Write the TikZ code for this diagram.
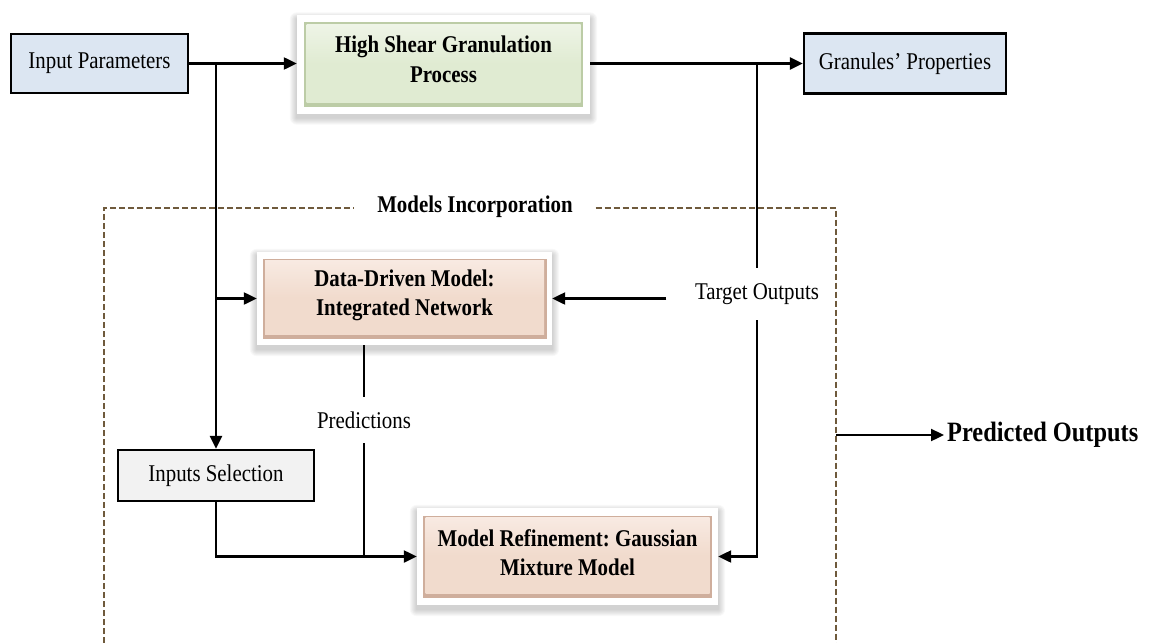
\documentclass[tikz,border=0pt]{standalone}
\usepackage{fontspec}
\setmainfont{Liberation Serif}
\newfontfamily\narrowserif{Liberation Serif}[FakeStretch=0.87]
\usetikzlibrary{arrows.meta}
\frenchspacing

\definecolor{boxblue}{HTML}{DCE6F2}
\definecolor{boxgray}{HTML}{F2F2F2}
\definecolor{greenface}{HTML}{E0EBD2}
\definecolor{greentop}{HTML}{EEF4E6}
\definecolor{greenrim}{HTML}{BCCCA6}
\definecolor{peachface}{HTML}{F1DBCD}
\definecolor{peachtop}{HTML}{F8EAE2}
\definecolor{peachrim}{HTML}{CFAE9C}
\definecolor{framebrown}{HTML}{6F5A3C}

\tikzset{
  link/.style={line width=2.3pt, draw=black},
  arr/.style={link, -{Triangle[length=13pt,width=12pt]}},
  plainbox/.style={draw=black, line width=2.3pt, align=center, inner sep=0pt,
    font=\narrowserif\fontsize{24}{28}\selectfont},
  glowframe/.style={draw=none, fill=white, inner sep=0pt},
  rim/.style={draw=none, fill=#1, inner sep=0pt},
  face/.style={draw=none, inner sep=0pt},
  facetext/.style={inner sep=0pt, align=center,
    font=\narrowserif\bfseries\fontsize{24}{29.5}\selectfont},
  lbl/.style={inner sep=0pt, align=center, font=\narrowserif\fontsize{24}{28}\selectfont},
  framedash/.style={draw=framebrown, line width=1.8pt, dash pattern=on 6pt off 3pt}
}

% soft blurred shadow under a named frame node
\newcommand\softshade[1]{%
  \foreach \s in {1,...,7}{%
    \fill[black, opacity=0.028, rounded corners=\s pt]
      ([xshift=-\s pt, yshift=\s pt-4pt]#1.north west) rectangle
      ([xshift=\s pt, yshift=-\s pt-4pt]#1.south east);
  }%
}

\begin{document}
\begin{tikzpicture}[x=1pt,y=-1pt]
\useasboundingbox (0,0) rectangle (1155,642);

% ---- dashed frame around the model stage
\node[inner sep=0pt, minimum width=241pt, minimum height=24pt,
      font=\narrowserif\bfseries\fontsize{24}{28}\selectfont] (title) at (475,207) {Models Incorporation};
\draw[framedash] (104,643) -- (104,208) -- (title.west |- 0,208);
\draw[framedash] (title.east |- 0,208) -- (836,208) -- (836,643);

% ---- top row
\node[plainbox, fill=boxblue, minimum width=177pt, minimum height=59pt] (inp) at (99.5,63.5) {Input Parameters};
\node[plainbox, fill=boxblue, minimum width=202pt, minimum height=60pt] (gran) at (905,63.5) {Granules’ Properties};

\path (443.5,64.5) node[glowframe, minimum width=293pt, minimum height=98pt] (hsgf) {};
\softshade{hsgf}
\node[glowframe, minimum width=293pt, minimum height=98pt] at (hsgf.center) {};
\node[rim=greenrim, minimum width=279pt, minimum height=84pt] at (hsgf.center) {};
\node[face, top color=greentop, bottom color=greenface, middle color=greenface,
      minimum width=274pt, minimum height=78pt] at ([yshift=1pt]hsgf.center) {};
\node[facetext] (hsg) at ([yshift=5pt]hsgf.center) {High Shear Granulation\\Process};

% ---- model boxes
\path (404.5,298.5) node[glowframe, minimum width=295pt, minimum height=93pt] (ddf) {};
\softshade{ddf}
\node[glowframe, minimum width=295pt, minimum height=93pt] at (ddf.center) {};
\node[rim=peachrim, minimum width=284pt, minimum height=80pt] at (ddf.center) {};
\node[face, top color=peachtop, bottom color=peachface, middle color=peachface,
      minimum width=279pt, minimum height=74pt] at ([yshift=1pt]ddf.center) {};
\node[facetext] (dd) at ([yshift=3pt]ddf.center) {Data-Driven Model:\\Integrated Network};

\path (567.5,556.5) node[glowframe, minimum width=301pt, minimum height=97pt] (gmmf) {};
\softshade{gmmf}
\node[glowframe, minimum width=301pt, minimum height=97pt] at (gmmf.center) {};
\node[rim=peachrim, minimum width=289pt, minimum height=82pt] at (gmmf.center) {};
\node[face, top color=peachtop, bottom color=peachface, middle color=peachface,
      minimum width=284pt, minimum height=76pt] at ([yshift=1pt]gmmf.center) {};
\node[facetext] (gmm) at ([yshift=4pt]gmmf.center) {Model Refinement: Gaussian\\Mixture Model};

\node[plainbox, fill=boxgray, minimum width=196pt, minimum height=51pt] (sel) at (216,475.5) {Inputs Selection};

% ---- labels sitting on connectors
\node[lbl, minimum width=181pt, minimum height=52pt] (target) at (757,294) {Target Outputs};
\node[lbl, minimum height=46pt] (pred) at (364,420) {Predictions};
\node[anchor=west, inner sep=3pt, font=\narrowserif\bfseries\fontsize{28}{32}\selectfont] (po) at (944,435) {Predicted Outputs};

% ---- junction points
\coordinate (j1) at (216,63.5);
\coordinate (j2) at (757,63.5);
\coordinate (poin) at (836,435);

% ---- connectors
\draw[arr] (inp.east) -- (inp.east -| hsgf.west);
\draw[arr] (hsgf.east |- gran.west) -- (gran.west);
\draw[arr] (j1) -- (sel.north);
\draw[arr] (j1 |- ddf.west) -- (ddf.west);
\draw[link] (j2) -- (target.north);
\draw[arr] (target.west |- ddf.east) -- (ddf.east);
\draw[arr] (target.south) |- (gmmf.east);
\draw[link] (pred.north |- ddf.south) -- (pred.north);
\draw[link] (pred.south) -- (pred.south |- gmmf.west);
\draw[arr] (sel.south) |- (gmmf.west);
\draw[arr] (poin) -- (po.west);
\end{tikzpicture}
\end{document}
